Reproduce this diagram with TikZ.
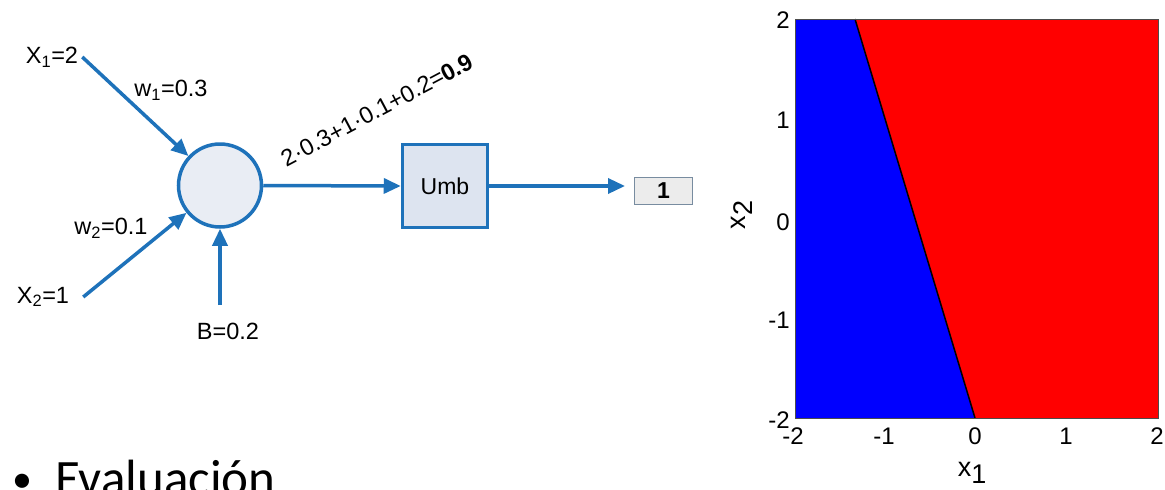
\documentclass[tikz,border=0pt]{standalone}
\usepackage{fontspec}
\setmainfont{Liberation Sans}
\newfontfamily\calib{Carlito}
\usetikzlibrary{arrows.meta}
\definecolor{nblue}{RGB}{30,114,186}
\definecolor{nfill}{RGB}{233,237,244}
\definecolor{bfill}{RGB}{221,228,240}
\definecolor{ofill}{RGB}{236,236,236}
\definecolor{oline}{RGB}{120,140,160}
\tikzset{
  lbl/.style={font=\fontsize{23.5}{27}\selectfont, inner sep=0pt},
  tick/.style={font=\fontsize{24}{28}\selectfont, inner sep=0pt},
  arr/.style={draw=nblue, line width=3.5pt, -{Triangle[length=17pt,width=15pt]}},
  neuron/.style={circle, draw=nblue, fill=nfill, line width=3.5pt, minimum size=83pt, inner sep=0pt},
  umbbox/.style={rectangle, draw=nblue, fill=bfill, line width=3.5pt, minimum width=85pt, minimum height=83pt, font=\fontsize{23}{27}\selectfont},
  outbox/.style={rectangle, draw=oline, fill=ofill, line width=1pt, minimum width=58pt, minimum height=27pt, font=\fontsize{23}{27}\selectfont\bfseries}
}
\begin{document}
\begin{tikzpicture}[x=1pt,y=-1pt]
\useasboundingbox (0,0) rectangle (1165,490);
\fill[white] (0,0) rectangle (1165,490);

% network
\node[neuron] (n) at (220,185.5) {};
\node[lbl] (x1) at (52,57) {X\textsubscript{1}=2};
\node[lbl] (x2) at (43,297) {X\textsubscript{2}=1};
\node[lbl] (w1) at (171,90) {w\textsubscript{1}=0.3};
\node[lbl] (w2) at (111,228) {w\textsubscript{2}=0.1};
\node[lbl] (b) at (228,331) {B=0.2};
\coordinate (bs) at (220,305);
\node[umbbox] (u) at (445,186) {Umb};
\node[outbox] (o) at (663.5,191) {1};
\node[lbl, rotate=28] (f) at (377,110) {2·0.3+1·0.1+0.2=\textbf{0.9}};

\draw[arr] ([xshift=4pt]x1.east) -- (n);
\draw[arr] ([xshift=14pt]x2.east) -- (n);
\draw[arr] (bs) -- (n.south);
\draw[arr] (n.east) -- (u.west);
\draw[arr, shorten >=9pt] (u.east) -- (u.east -| o.west);

% bullet text
\node[anchor=base west, inner sep=0pt, font=\calib\fontsize{40}{48}\selectfont] (bul) at (12,492) {•};
\node[anchor=base west, inner sep=0pt, font=\calib\fontsize{51}{60}\selectfont] (ev) at (55,495) {Evaluación};

% plot
\fill[blue] (795,19) rectangle (1158,418);
\fill[red] (855,19) -- (1158,19) -- (1158,418) -- (975,418) -- cycle;
\draw[black, line width=1.5pt] (855,19) -- (975,418);
\draw[black!70, line width=0.6pt] (795,19) rectangle (1158,418);

\node[tick, anchor=east] (ty2) at (790,20) {2};
\node[tick, anchor=east] (ty1) at (790,120) {1};
\node[tick, anchor=east] (ty0) at (790,222) {0};
\node[tick, anchor=east] (tym1) at (790,320) {-1};
\node[tick, anchor=east] (tym2) at (790,420) {-2};
\node[tick] (tx1) at (793,436) {-2};
\node[tick] (tx2) at (884,436) {-1};
\node[tick] (tx3) at (975,436) {0};
\node[tick] (tx4) at (1066,436) {1};
\node[tick] (tx5) at (1157,436) {2};
\node[font=\fontsize{27}{31}\selectfont, inner sep=0pt] (xl) at (972,473) {x\raisebox{-7pt}{1}};
\node[font=\fontsize{27}{31}\selectfont, inner sep=0pt, rotate=90] (yl) at (742,215) {x\raisebox{-7pt}{2}};
\end{tikzpicture}
\end{document}
